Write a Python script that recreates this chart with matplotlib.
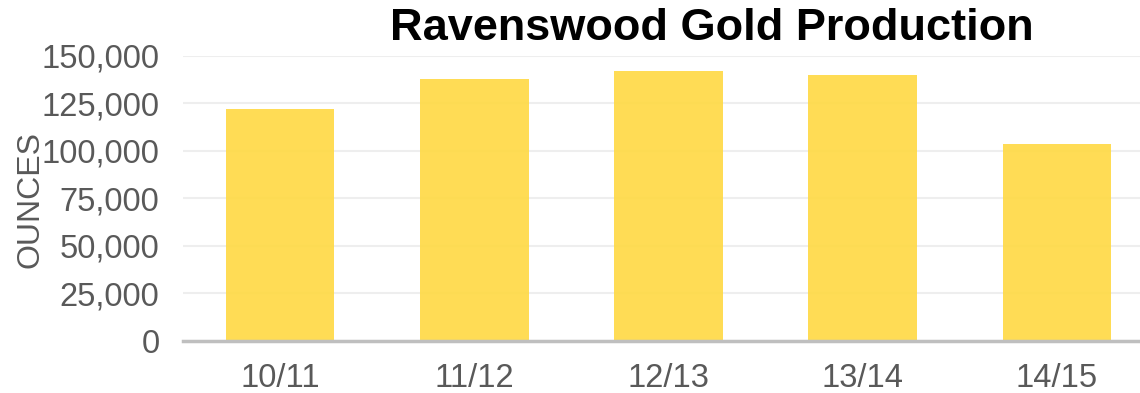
import matplotlib.pyplot as plt
from matplotlib.ticker import FuncFormatter

# data
years = ["10/11", "11/12", "12/13", "13/14", "14/15"]
ounces = [122200, 137900, 141800, 139700, 103500]
yticks = [0, 25000, 50000, 75000, 100000, 125000, 150000]

plt.rcParams['font.family'] = ['Liberation Sans', 'DejaVu Sans']
grey = '#595959'

fig = plt.figure(figsize=(11.40, 3.93), dpi=100)
# axes spans a bit past the right edge, like the original
ax = fig.add_axes([183/1140, 52.3/393, 971/1140, 285/393])

ax.bar(range(len(years)), ounces, width=0.56, color='#FFD942', alpha=0.9, zorder=2)

ax.set_xlim(-0.5, len(years) - 0.5)
ax.set_ylim(0, 150000)
ax.set_yticks(yticks)
ax.yaxis.set_major_formatter(FuncFormatter(lambda v, p: f"{int(v):,}"))
ax.set_xticks(range(len(years)))
ax.set_xticklabels(years)

ax.grid(axis='y', color='#EEEEEE', linewidth=1.5, zorder=0)
for s in ['top', 'right', 'left']:
    ax.spines[s].set_visible(False)
ax.spines['bottom'].set_color('#BFBFBF')
ax.spines['bottom'].set_linewidth(2.5)
ax.spines['bottom'].set_zorder(3)

ax.tick_params(axis='both', length=0, labelsize=23.5, colors=grey)
ax.tick_params(axis='y', pad=17)
ax.tick_params(axis='x', pad=16)

fig.text(712/1140, 1 - 29/393, "Ravenswood Gold Production", ha='center', va='center',
         fontsize=32.5, fontweight='bold', color='black')
fig.text(30/1140, 1 - 200/393, "OUNCES", rotation=90, ha='center', va='center',
         fontsize=23, color=grey)

fig.savefig("out.png", dpi=100)
